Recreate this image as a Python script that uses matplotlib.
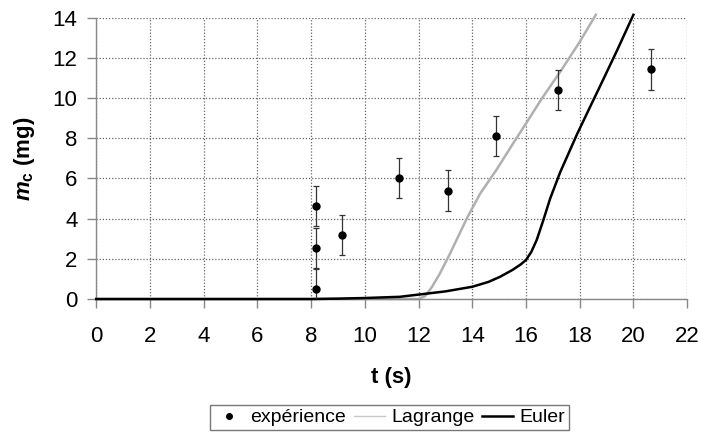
import matplotlib
matplotlib.use("Agg")
import matplotlib.pyplot as plt
from matplotlib.lines import Line2D

plt.rcParams["font.family"] = ["Liberation Sans", "DejaVu Sans"]
plt.rcParams["mathtext.fontset"] = "custom"
plt.rcParams["mathtext.rm"] = "Liberation Sans:bold"
plt.rcParams["mathtext.it"] = "Liberation Sans:italic:bold"
plt.rcParams["mathtext.bf"] = "Liberation Sans:bold"

# experimental data
exp_t = [8.19, 8.19, 8.19, 9.15, 11.29, 13.08, 14.89, 17.21, 20.65]
exp_m = [4.63, 2.54, 0.50, 3.19, 6.01, 5.40, 8.12, 10.41, 11.43]
exp_err = [1.0, 1.0, 1.0, 1.0, 1.0, 1.0, 1.0, 1.0, 1.0]

# Lagrange model
lag_t = [0, 12.0, 12.25, 12.5, 12.8, 13.18, 13.8, 14.3, 14.9, 15.5, 16.03, 16.6, 17.27, 18.0, 18.6]
lag_m = [0, 0.0, 0.15, 0.6, 1.28, 2.28, 4.02, 5.26, 6.43, 7.7, 8.8, 10.0, 11.3, 12.8, 14.15]

# Euler model
eul_t = [0, 8.0, 9.0, 10.0, 11.3, 12.06, 13.0, 14.0, 14.6, 15.04, 15.5, 15.8, 16.0, 16.2,
         16.4, 16.65, 16.9, 17.27, 17.9, 18.4, 18.76, 19.4, 20.0]
eul_m = [0, 0.0, 0.02, 0.05, 0.11, 0.23, 0.38, 0.61, 0.85, 1.11, 1.45, 1.72, 1.94, 2.35,
         2.94, 3.94, 5.0, 6.3, 8.2, 9.6, 10.6, 12.4, 14.15]

x_ticks = list(range(0, 23, 2))
y_ticks = list(range(0, 15, 2))

fig = plt.figure(figsize=(7.18, 4.34), dpi=100)
ax = fig.add_axes([0.134, 0.311, 0.823, 0.648])

ax.plot(eul_t, eul_m, color="black", lw=1.8, zorder=3, clip_on=False)
ax.plot(lag_t, lag_m, color="#b0b0b0", lw=1.8, zorder=2, clip_on=False)
ax.errorbar(exp_t, exp_m, yerr=exp_err, fmt="o", color="black", ms=5,
            ecolor="#333333", elinewidth=0.9, capsize=2.5, capthick=0.9, zorder=4)

ax.set_xlim(0, 22)
ax.set_ylim(0, 14)
ax.set_xticks(x_ticks)
ax.set_yticks(y_ticks)
ax.grid(True, color="#666666", linestyle=(0, (1, 1.5)), linewidth=0.9)
ax.set_axisbelow(True)
for s in ["top", "right"]:
    ax.spines[s].set_visible(False)
for s in ["left", "bottom"]:
    ax.spines[s].set_color("#888888")
    ax.spines[s].set_linewidth(1.0)
ax.tick_params(axis="both", colors="#888888", length=6.5, width=1.0, labelsize=16,
               labelcolor="black")
ax.tick_params(axis="x", pad=13)
ax.tick_params(axis="y", pad=7)

ax.set_xlabel("t (s)", fontsize=16, fontweight="bold", labelpad=14)
ax.set_ylabel(r"$\mathit{m}_{\mathrm{c}}$ (mg)", fontsize=16, fontweight="bold", labelpad=11)

handles = [
    Line2D([], [], marker="o", color="black", ls="none", ms=4),
    Line2D([], [], color="#c8c8c8", lw=1.0),
    Line2D([], [], color="black", lw=1.8),
]
leg = fig.legend(handles, ["expérience", "Lagrange", "Euler"], loc="center",
                 bbox_to_anchor=(0.542, 0.038), ncol=3, fontsize=14, frameon=True,
                 fancybox=False, edgecolor="#555555", handlelength=1.6,
                 handletextpad=0.3, columnspacing=0.4, borderpad=0.2)
leg.get_frame().set_linewidth(1.0)

fig.savefig("out.png", dpi=100)
